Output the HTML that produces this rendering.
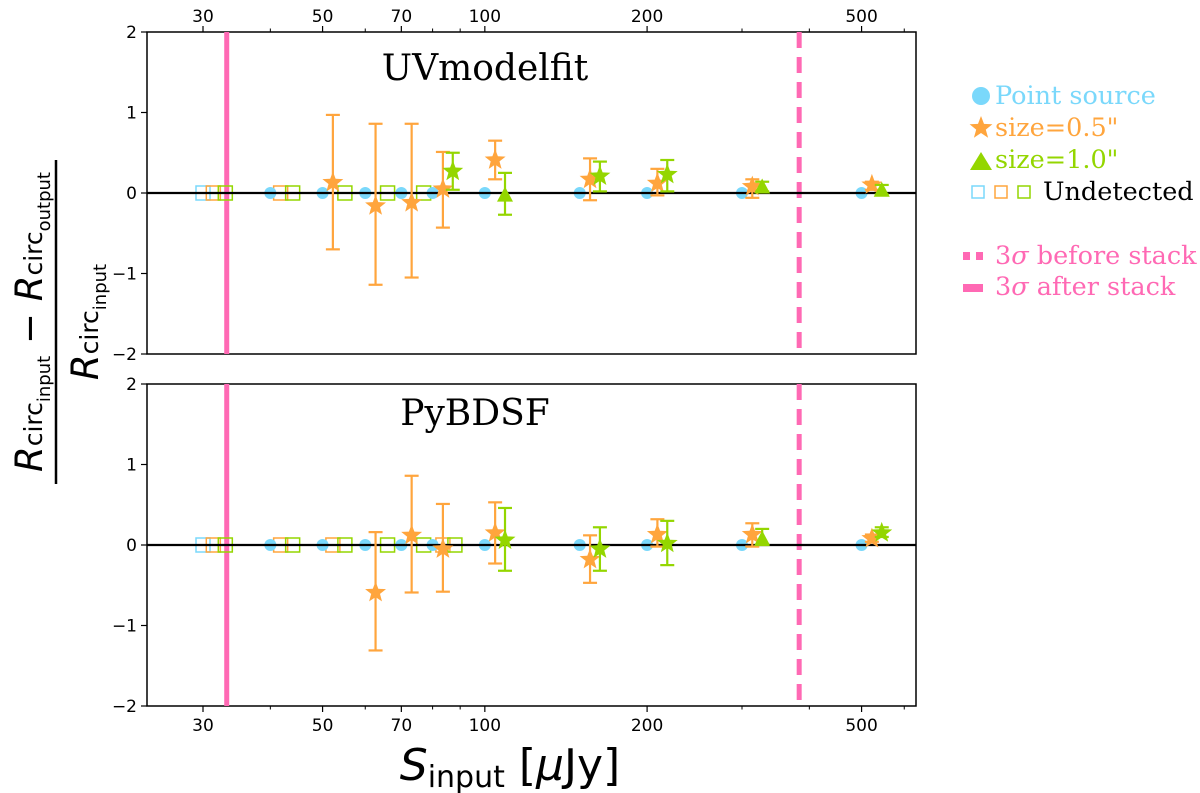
<!DOCTYPE html>
<html><head><meta charset="utf-8">
<style>
body{margin:0;background:#fff;}
svg{display:block;}
text{font-family:"DejaVu Sans","Liberation Sans",sans-serif;}
.serif{font-family:"DejaVu Serif","Liberation Serif",serif;}
</style></head>
<body>
<svg id="chart" width="1200" height="793" viewBox="0 0 1200 793" xmlns="http://www.w3.org/2000/svg">
<g id="plot"></g>
<g id="legend">
  <circle cx="981" cy="96" r="9" fill="#7ad8fb"/>
  <text class="serif" x="995" y="104" font-size="25.5" fill="#7ad8fb">Point source</text>
  <polygon id="lgstar" fill="#ffa53d"/>
  <text class="serif" x="995" y="136" font-size="25.5" fill="#ffa53d">size=0.5"</text>
  <polygon points="970,170 981,152 992,170" fill="#94d600"/>
  <text class="serif" x="995" y="168" font-size="25.5" fill="#94d600">size=1.0"</text>
  <rect x="972" y="186" width="12" height="12" fill="none" stroke="#7ad8fb" stroke-width="1.5"/>
  <rect x="995" y="186" width="12" height="12" fill="none" stroke="#ffa53d" stroke-width="1.5"/>
  <rect x="1018" y="186" width="12" height="12" fill="none" stroke="#94d600" stroke-width="1.5"/>
  <text class="serif" x="1043" y="200" font-size="25.5" fill="#000">Undetected</text>
  <rect x="963" y="252" width="7" height="8" fill="#ff69b4"/>
  <rect x="976" y="252" width="7" height="8" fill="#ff69b4"/>
  <text class="serif" x="995" y="264" font-size="25.5" fill="#ff69b4">3<tspan font-style="italic">σ</tspan> before stack</text>
  <rect x="963" y="284" width="20" height="8" fill="#ff69b4"/>
  <text class="serif" x="995" y="295" font-size="25.5" fill="#ff69b4">3<tspan font-style="italic">σ</tspan> after stack</text>
</g>
<g transform="translate(48,322) rotate(-90)">
  <text x="0" y="-6" text-anchor="middle" font-size="37"><tspan font-style="italic">R</tspan><tspan font-size="25">circ</tspan><tspan font-size="18" dy="8">input</tspan><tspan dy="-8"> − </tspan><tspan font-style="italic">R</tspan><tspan font-size="25">circ</tspan><tspan font-size="18" dy="8">output</tspan></text>
  <line x1="-162" y1="8" x2="162" y2="8" stroke="#000" stroke-width="2.5"/>
  <text x="0" y="50" text-anchor="middle" font-size="37"><tspan font-style="italic">R</tspan><tspan font-size="25">circ</tspan><tspan font-size="18" dy="8">input</tspan></text>
</g>
<text x="510" y="780" text-anchor="middle" font-size="44"><tspan font-style="italic">S</tspan><tspan font-size="30" dy="7">input</tspan><tspan dy="-7"> [</tspan><tspan font-style="italic">μ</tspan>Jy]</text>
</svg>
<script>
// ---- data ----
const fluxes = [30,40,50,60,70,80,100,150,200,300,500];
const pointFluxes = [40,50,60,70,80,100,150,200,300,500];
const starFluxesTop = [50,60,70,80,100,150,200,300,500];
const starTop = [0.13,-0.16,-0.12,0.05,0.41,0.17,0.12,0.08,0.10];
const starTopHi = [0.97,0.86,0.86,0.51,0.65,0.43,0.30,0.17,0.14];
const starTopLo = [-0.70,-1.14,-1.05,-0.43,0.17,-0.09,-0.03,-0.06,0.04];
const greenFluxesTop = [80,100,150,200,300,500];
const greenTop = [0.27,-0.02,0.21,0.23,0.08,0.04];
const greenTopHi = [0.50,0.25,0.39,0.41,0.14,0.10];
const greenTopLo = [0.04,-0.27,0.02,0.02,0.02,-0.02];
const greenTopMarker = ['star','tri','star','star','tri','tri'];
const starFluxesBot = [60,70,80,100,150,200,300,500];
const starBot = [-0.59,0.12,-0.05,0.15,-0.18,0.13,0.13,0.08];
const starBotHi = [0.16,0.86,0.51,0.53,0.12,0.32,0.27,0.13];
const starBotLo = [-1.31,-0.59,-0.58,-0.23,-0.47,-0.02,-0.02,0.04];
const greenFluxesBot = [100,150,200,300,500];
const greenBot = [0.06,-0.05,0.02,0.08,0.15];
const greenBotHi = [0.46,0.22,0.30,0.20,0.22];
const greenBotLo = [-0.32,-0.32,-0.25,0.00,0.10];
const greenBotMarker = ['star','star','star','tri','star'];
const undetCyanTop = [30], undetOrangeTop = [30,40], undetGreenTop = [30,40,50,60,70];
const undetCyanBot = [30], undetOrangeBot = [30,40,50,80], undetGreenBot = [30,40,50,60,70,80];
const xTickVals = [30,50,70,100,200,500];
const xMinorVals = [40,60,80,90,300,400,600];
const yTickVals = [-2,-1,0,1,2];
const sigmaAfter = 33.2, sigmaBefore = 383;

// ---- axes ----
const L=147,R=916;
const xs = f => 203 + 539*Math.log10(f/30);
const panels = [{top:32,bot:354,title:'UVmodelfit',tx:485,ty:80},{top:384,bot:706,title:'PyBDSF',tx:475,ty:425}];
const C='#7ad8fb',O='#ffa53d',G='#94d600',P='#ff69b4';
const NS='http://www.w3.org/2000/svg';
const root=document.getElementById('plot');
function mk(tag,attrs,parent){const e=document.createElementNS(NS,tag);for(const k in attrs)e.setAttribute(k,attrs[k]);(parent||root).appendChild(e);return e;}
function starPts(cx,cy,r){let p=[];for(let i=0;i<10;i++){const rr=i%2?r*0.42:r;const a=-Math.PI/2+i*Math.PI/5;p.push((cx+rr*Math.cos(a)).toFixed(1)+','+(cy+rr*Math.sin(a)).toFixed(1));}return p.join(' ');}
document.getElementById('lgstar').setAttribute('points',starPts(981,128,12));

panels.forEach((pn,pi)=>{
  const ys = v => (pn.top+pn.bot)/2 - v*(pn.bot-pn.top)/4;
  const g=mk('g',{});
  
  
  mk('rect',{x:L,y:pn.top,width:R-L,height:pn.bot-pn.top,fill:'none',stroke:'#000','stroke-width':1.5},g);
  const t=mk('text',{x:pn.tx,y:pn.ty,'text-anchor':'middle','font-size':36,class:'serif'},g);
  t.textContent=pn.title;
  
  
  yTickVals.forEach(v=>{
    mk('line',{x1:L-6,x2:L,y1:ys(v),y2:ys(v),stroke:'#000','stroke-width':1.2},g);
    const tl=mk('text',{x:L-10,y:ys(v)+6,'text-anchor':'end','font-size':17},g);
    tl.textContent=(v<0?'−'+(-v):String(v));
    
    
  });
  xTickVals.forEach(v=>{
    const x=xs(v);
    if(pi===0){mk('line',{x1:x,x2:x,y1:pn.top-6,y2:pn.top,stroke:'#000','stroke-width':1.2},g);}
    else{mk('line',{x1:x,x2:x,y1:pn.bot,y2:pn.bot+6,stroke:'#000','stroke-width':1.2},g);}
    const tl=mk('text',{x:x,y:pi===0?pn.top-10:pn.bot+25,'text-anchor':'middle','font-size':17},g);
    tl.textContent=String(v);
    
    
  });
  xMinorVals.forEach(v=>{
    const x=xs(v); if(x>R) return;
    if(pi===0) mk('line',{x1:x,x2:x,y1:pn.top-3.5,y2:pn.top,stroke:'#000','stroke-width':1},g);
    else mk('line',{x1:x,x2:x,y1:pn.bot,y2:pn.bot+3.5,stroke:'#000','stroke-width':1},g);
  });
  const sa=mk('line',{x1:xs(sigmaAfter),x2:xs(sigmaAfter),y1:pn.top,y2:pn.bot,stroke:P,'stroke-width':5},g);
  
  
  const sb=mk('line',{x1:xs(sigmaBefore),x2:xs(sigmaBefore),y1:pn.top,y2:pn.bot,stroke:P,'stroke-width':5,'stroke-dasharray':'16,9'},g);
  
  
  const sq=(arr,col,fac)=>arr.forEach(f=>{
    const s=mk('rect',{x:xs(f*fac)-7,y:ys(0)-7,width:14,height:14,fill:'none',stroke:col,'stroke-width':1.5},g);
    
    
  });
  sq(pi?undetCyanBot:undetCyanTop,C,1);
  sq(pi?undetOrangeBot:undetOrangeTop,O,1.045);
  sq(pi?undetGreenBot:undetGreenTop,G,1.1);
  pointFluxes.forEach(f=>{
    const c=mk('circle',{cx:xs(f),cy:ys(0),r:6,fill:C},g);
    
    
  });
  mk('line',{x1:L,x2:R,y1:ys(0),y2:ys(0),stroke:'#000','stroke-width':2.2},g);
  const series=(fl,v,hi,lo,col,fac,markers,name)=>fl.forEach((f,i)=>{
    const x=xs(f*fac);
    const eb=mk('g',{},g);
    
    
    mk('line',{x1:x,x2:x,y1:ys(hi[i]),y2:ys(lo[i]),stroke:col,'stroke-width':2.2},eb);
    mk('line',{x1:x-7,x2:x+7,y1:ys(hi[i]),y2:ys(hi[i]),stroke:col,'stroke-width':2.2},eb);
    mk('line',{x1:x-7,x2:x+7,y1:ys(lo[i]),y2:ys(lo[i]),stroke:col,'stroke-width':2.2},eb);
    const y=ys(v[i]);
    let m;
    if(markers && markers[i]==='tri') m=mk('polygon',{points:`${x-8},${y+7} ${x},${y-8} ${x+8},${y+7}`,fill:col},g);
    else m=mk('polygon',{points:starPts(x,y,11),fill:col},g);
    
    
  });
  if(pi===0){
    series(starFluxesTop,starTop,starTopHi,starTopLo,O,1.045,null,'size-05');
    series(greenFluxesTop,greenTop,greenTopHi,greenTopLo,G,1.09,greenTopMarker,'size-10');
  } else {
    series(starFluxesBot,starBot,starBotHi,starBotLo,O,1.045,null,'size-05');
    series(greenFluxesBot,greenBot,greenBotHi,greenBotLo,G,1.09,greenBotMarker,'size-10');
  }
});
</script>
</body></html>
